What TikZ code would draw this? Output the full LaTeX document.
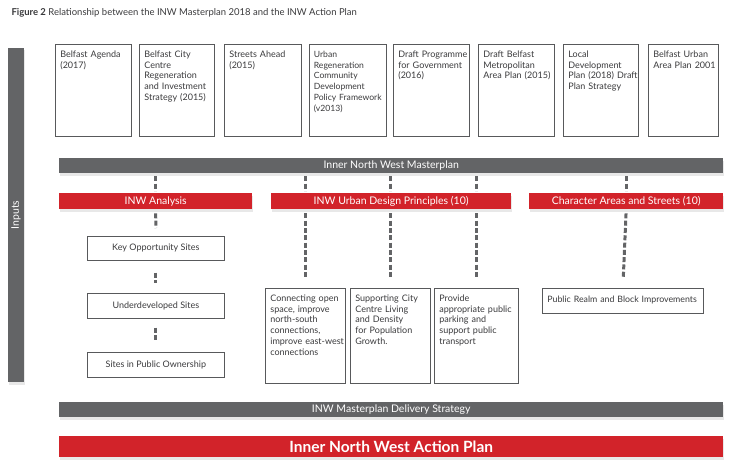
\documentclass[tikz,border=0pt]{standalone}
\usepackage{fontspec}
\setmainfont{Lato}
\usetikzlibrary{shadows}

\definecolor{barGray}{HTML}{636466}
\definecolor{barRed}{HTML}{D2232A}
\definecolor{lineGray}{HTML}{58595B}
\definecolor{txtGray}{HTML}{3A3A3C}

\hyphenpenalty=10000
\exhyphenpenalty=10000

\tikzset{
  bar/.style={fill=barGray, text=white, anchor=north west, inner sep=0pt,
    minimum height=15pt, font=\fontsize{10.5}{12}\selectfont,
    drop shadow={opacity=0.18, shadow xshift=1pt, shadow yshift=-2.5pt}},
  redbar/.style={bar, fill=barRed, minimum height=16pt},
  inbox/.style={draw=lineGray, line width=0.7pt, anchor=north west, align=left,
    inner xsep=5pt, inner ysep=4pt, text width=#1, text height=9pt,
    text depth=75pt, text=txtGray, font=\fontsize{9}{10.8}\selectfont},
  inbox/.default=66pt,
  urbox/.style={inbox=#1, text depth=78pt},
  sitebox/.style={draw=lineGray, line width=0.7pt, anchor=north west,
    minimum width=137pt, minimum height=24pt, text=txtGray,
    font=\fontsize{9}{10.8}\selectfont},
  dashlink/.style={draw=barGray, line width=3pt, dash pattern=on 5pt off 2.3pt}
}

\begin{document}
\begin{tikzpicture}[x=1pt, y=-1pt]
\useasboundingbox (0,0) rectangle (735,468);

\node[anchor=base west, text=txtGray, font=\fontsize{9.5}{11}\selectfont] (title) at (8,16)
  {\textbf{Figure 2} Relationship between the INW Masterplan 2018 and the INW Action Plan};

\node[bar, rotate=90, anchor=center, minimum width=334pt, minimum height=16pt] (inputs) at (16,215) {Inputs};

% inputs
\node[inbox] (in1) at (55,44) {Belfast Agenda\\(2017)};
\node[inbox=65pt] (in2) at (139,44) {Belfast City\\Centre\\Regeneration\\and~Investment\\Strategy~(2015)};
\node[inbox=67pt] (in3) at (224,44) {Streets Ahead\\(2015)};
\node[inbox=68pt, inner xsep=4.5pt, font=\fontsize{8.6}{10.8}\selectfont] (in4) at (309,44) {Urban\\Regeneration\\Community\\Development\\Policy~Framework\\(v2013)};
\node[inbox] (in5) at (393,44) {Draft~Programme\\for~Government\\(2016)};
\node[inbox] (in6) at (478,44) {Draft Belfast\\Metropolitan\\Area~Plan~(2015)};
\node[inbox=65pt] (in7) at (563,44) {Local\\Development\\Plan~(2018)~Draft\\Plan Strategy};
\node[inbox=60pt] (in8) at (648,44) {Belfast Urban\\Area~Plan~2001};

\node[bar, minimum width=664pt] (mp) at (59,158) {Inner North West Masterplan};

\node[redbar, minimum width=193pt] (ana) at (59,193) {INW Analysis};
\node[redbar, minimum width=240pt] (udp) at (271,193) {INW Urban Design Principles (10)};
\node[redbar, minimum width=194pt] (cas) at (529,193) {Character Areas and Streets (10)};

% analysis
\node[sitebox] (kos) at (87,236) {Key Opportunity Sites};
\node[sitebox, minimum height=25pt] (uds) at (87,293) {Underdeveloped Sites};
\node[sitebox, minimum height=25pt] (spo) at (87,352) {Sites in Public Ownership};

% urban design
\node[urbox=70pt] (ubA) at (265,288) {Connecting~open\\space, improve\\north-south\\connections,\\improve~east-west\\connections};
\node[urbox=70pt] (ubB) at (350,288) {Supporting~City\\Centre Living\\and Density\\for Population\\Growth.};
\node[urbox=74pt] (ubC) at (434,288) {Provide\\appropriate~public\\parking and\\support public\\transport};

\node[inbox=151pt, text height=6pt, text depth=2pt, inner ysep=8.5pt, font=\fontsize{8.8}{10.8}\selectfont] (prb) at (542,288) {Public Realm and Block Improvements};

\node[bar, minimum width=664pt] (mds) at (59,402) {INW Masterplan Delivery Strategy};
\node[redbar, minimum width=664pt, minimum height=21pt, font=\fontsize{15.5}{17}\selectfont\bfseries] (iap) at (59,436) {Inner North West Action Plan};

% links
\draw[dashlink, shorten <=3pt, shorten >=2pt] (ana.north |- mp.south) -- (ana.north);
\draw[dashlink, shorten <=3pt, shorten >=2pt] (ubA.north |- mp.south) -- (ubA.north |- udp.north);
\draw[dashlink, shorten <=3pt, shorten >=2pt] (ubB.north |- mp.south) -- (ubB.north |- udp.north);
\draw[dashlink, shorten <=3pt, shorten >=2pt] (ubC.north |- mp.south) -- (ubC.north |- udp.north);
\draw[dashlink, shorten <=3pt, shorten >=2pt] (cas.north |- mp.south) -- (cas.north);

\draw[dashlink, shorten <=4pt, shorten >=8pt] (ana.south) -- (kos.north);
\draw[dashlink, shorten <=12pt, shorten >=10pt] (kos.south) -- (uds.north);
\draw[dashlink, shorten <=9pt, shorten >=12pt] (uds.south) -- (spo.north);

\draw[dashlink, shorten <=4pt, shorten >=10pt] (ubA.north |- udp.south) -- (ubA.north);
\draw[dashlink, shorten <=4pt, shorten >=10pt] (ubB.north |- udp.south) -- (ubB.north);
\draw[dashlink, shorten <=4pt, shorten >=10pt] (ubC.north |- udp.south) -- (ubC.north);
\draw[dashlink, shorten <=4pt, shorten >=10pt] (cas.south) -- (prb.north);

\end{tikzpicture}
\end{document}
